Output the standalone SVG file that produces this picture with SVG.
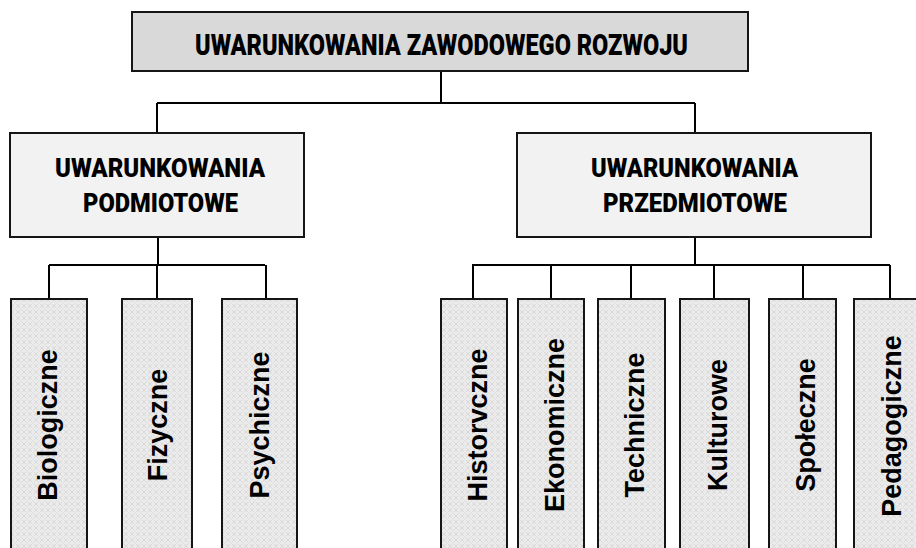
<svg xmlns="http://www.w3.org/2000/svg" width="916" height="548" viewBox="0 0 916 548">
  <defs>
    <!-- fine crosshatch texture used by the leaf boxes -->
    <pattern id="hatch" width="6" height="6" patternUnits="userSpaceOnUse">
      <rect width="6" height="6" fill="#ebebeb"/>
      <path d="M0 0 L6 6 M6 0 L0 6" stroke="#d9d9d9" stroke-width="1"/>
      <circle cx="3" cy="3" r="0.8" fill="#f6f6f6"/>
    </pattern>
    <style>
      .box { stroke: #151515; stroke-width: 2; }
      .root { fill: #d9d9d9; }
      .mid { fill: #f2f2f2; }
      .leaf { fill: url(#hatch); }
      .head { font-family: Roboto, "Liberation Sans", sans-serif; font-weight: 900; fill: #000; text-anchor: middle; }
      .leafText { font-family: "Liberation Sans", Arial, sans-serif; font-weight: bold; font-size: 27px; fill: #000; text-anchor: middle; }
      .conn { stroke: #000; stroke-width: 2; fill: none; }
    </style>
  </defs>

  <!-- connectors -->
  <g id="connectors">
    <path class="conn" d="M441 71 V103 M157 103 H695 M157 103 V133 M695 103 V133"/>
    <path class="conn" d="M158 237 V265 M49 265 H265 M49 265 V299 M157 265 V299 M266 265 V299"/>
    <path class="conn" d="M695 237 V265 M472 265 H890 M473 265 V299 M551 265 V299 M631 265 V299 M714 265 V299 M803 265 V299 M890 265 V299"/>
  </g>

  <g id="root">
    <rect class="box root" x="132" y="12" width="616" height="59"/>
    <text class="head" x="441.5" y="55" font-size="29" textLength="493" lengthAdjust="spacingAndGlyphs">UWARUNKOWANIA ZAWODOWEGO ROZWOJU</text>
  </g>

  <g id="podmiotowe">
    <rect class="box mid" x="10" y="133" width="294" height="104"/>
    <text class="head" x="160" y="177" font-size="25" textLength="210" lengthAdjust="spacingAndGlyphs">UWARUNKOWANIA</text>
    <text class="head" x="160.5" y="212" font-size="25" textLength="155" lengthAdjust="spacingAndGlyphs">PODMIOTOWE</text>
  </g>

  <g id="przedmiotowe">
    <rect class="box mid" x="517" y="133" width="354" height="104"/>
    <text class="head" x="694.5" y="177" font-size="25" textLength="207" lengthAdjust="spacingAndGlyphs">UWARUNKOWANIA</text>
    <text class="head" x="695" y="212" font-size="25" textLength="184" lengthAdjust="spacingAndGlyphs">PRZEDMIOTOWE</text>
  </g>

  <g id="biologiczne">
    <rect class="box leaf" x="11" y="299" width="76" height="262"/>
    <text class="leafText" transform="translate(56.5,425) rotate(-90)">Biologiczne</text>
  </g>
  <g id="fizyczne">
    <rect class="box leaf" x="122" y="299" width="70" height="262"/>
    <text class="leafText" transform="translate(167,425) rotate(-90)">Fizyczne</text>
  </g>
  <g id="psychiczne">
    <rect class="box leaf" x="222" y="299" width="75" height="262"/>
    <text class="leafText" transform="translate(268.5,425) rotate(-90)">Psychiczne</text>
  </g>

  <g id="historvczne">
    <rect class="box leaf" x="441" y="299" width="66" height="262"/>
    <text class="leafText" transform="translate(486.5,425) rotate(-90)">Historvczne</text>
  </g>
  <g id="ekonomiczne">
    <rect class="box leaf" x="518" y="299" width="66" height="262"/>
    <text class="leafText" transform="translate(563.5,425) rotate(-90)">Ekonomiczne</text>
  </g>
  <g id="techniczne">
    <rect class="box leaf" x="598" y="299" width="67" height="262"/>
    <text class="leafText" transform="translate(643.5,425) rotate(-90)">Techniczne</text>
  </g>
  <g id="kulturowe">
    <rect class="box leaf" x="680" y="299" width="69" height="262"/>
    <text class="leafText" transform="translate(726.5,425) rotate(-90)">Kulturowe</text>
  </g>
  <g id="spoleczne">
    <rect class="box leaf" x="769" y="299" width="67" height="262"/>
    <text class="leafText" transform="translate(814.5,425) rotate(-90)">Społeczne</text>
  </g>
  <g id="pedagogiczne">
    <rect class="box leaf" x="854" y="299" width="74" height="262"/>
    <text class="leafText" transform="translate(900.5,426) rotate(-90)">Pedagogiczne</text>
  </g>
</svg>
